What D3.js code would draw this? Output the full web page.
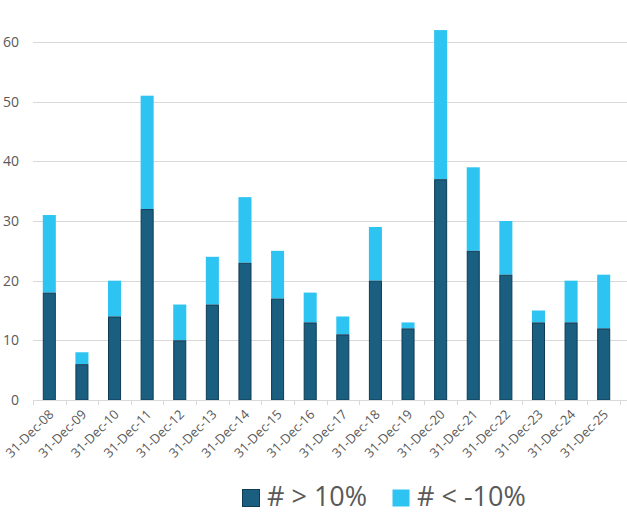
<!DOCTYPE html>
<html><head><meta charset="utf-8">
<script src="https://cdn.jsdelivr.net/npm/d3@7"></script>
<style>body{margin:0;background:#fff}svg{display:block;font-family:"Open Sans",sans-serif}</style>
</head><body><svg id="c" width="627" height="512"></svg>
<script>
const categories = ["31-Dec-08","31-Dec-09","31-Dec-10","31-Dec-11","31-Dec-12","31-Dec-13","31-Dec-14","31-Dec-15","31-Dec-16","31-Dec-17","31-Dec-18","31-Dec-19","31-Dec-20","31-Dec-21","31-Dec-22","31-Dec-23","31-Dec-24","31-Dec-25"];
const above10 = [18,6,14,32,10,16,23,17,13,11,20,12,37,25,21,13,13,12];
const belowMinus10 = [13,2,6,19,6,8,11,8,5,3,9,1,25,14,9,2,7,9];
const seriesNames = ["# > 10%","# < -10%"];
const yTicks = [0,10,20,30,40,50,60];

(function(){
const svg = d3.select("#c");
const mLeft = 33, mRight = 620, mTop = 42, mBottom = 400;
const x = d3.scaleBand().domain(categories).range([mLeft, mRight]).paddingInner(0).paddingOuter(0);
const y = d3.scaleLinear().domain([0,60]).range([mBottom, mTop]);
const colors = ["#1a5e80","#2ec4f2"];

svg.append("g").selectAll("line").data(yTicks.filter(d=>d>0)).join("line")
  .attr("x1", mLeft).attr("x2", 627).attr("y1", d=>Math.round(y(d))+0.5).attr("y2", d=>Math.round(y(d))+0.5)
  .attr("stroke","#d9d9d9").attr("stroke-width",1);

svg.append("g").selectAll("text").data(yTicks).join("text")
  .attr("x", 19).attr("y", d=>y(d)).attr("dy","0.35em").attr("text-anchor","end")
  .attr("font-size",14).attr("fill","#595959").text(d=>d);

const data = categories.map((c,i)=>({c, a:above10[i], b:belowMinus10[i]}));
const bw = x.bandwidth()*0.4;
const g = svg.append("g");
g.selectAll("rect.b").data(data).join("rect").attr("class","b")
  .attr("x", d=>x(d.c)+(x.bandwidth()-bw)/2).attr("width", bw)
  .attr("y", d=>y(d.a+d.b)).attr("height", d=>y(d.a)-y(d.a+d.b))
  .attr("fill", colors[1]);
g.selectAll("rect.a").data(data).join("rect").attr("class","a")
  .attr("x", d=>x(d.c)+(x.bandwidth()-bw)/2+0.5).attr("width", bw-1)
  .attr("y", d=>y(d.a)+0.5).attr("height", d=>y(0)-y(d.a)-0.5)
  .attr("fill", colors[0]).attr("stroke","#0f3b55").attr("stroke-width",1);

const ax = svg.append("g");
ax.append("line").attr("x1",mLeft).attr("x2",627).attr("y1",mBottom+0.5).attr("y2",mBottom+0.5).attr("stroke","#d9d9d9");
const bounds = categories.map(c=>x(c)).concat([mRight]);
ax.selectAll("line.t").data(bounds).join("line").attr("class","t")
  .attr("x1",d=>Math.round(d)+0.5).attr("x2",d=>Math.round(d)+0.5).attr("y1",mBottom).attr("y2",mBottom+5).attr("stroke","#d9d9d9");
ax.selectAll("text").data(categories).join("text")
  .attr("transform", d=>`translate(${x(d)+x.bandwidth()/2+2},${mBottom+12}) rotate(-45)`)
  .attr("text-anchor","end").attr("dy","0.35em").attr("font-size",13).attr("fill","#595959").text(d=>d);

const leg = svg.append("g");
const items = [{n:seriesNames[0],c:colors[0],x:242,s:"#0f3b55"},{n:seriesNames[1],c:colors[1],x:392,s:null}];
items.forEach(it=>{
  leg.append("rect").attr("x",it.x+0.5).attr("y",489.5).attr("width",17).attr("height",17)
    .attr("fill",it.c).attr("stroke",it.s||"none");
  leg.append("text").attr("x",it.x+25).attr("y",506).attr("font-size",27).attr("fill","#595959").text(it.n);
});
})();
</script></body></html>
